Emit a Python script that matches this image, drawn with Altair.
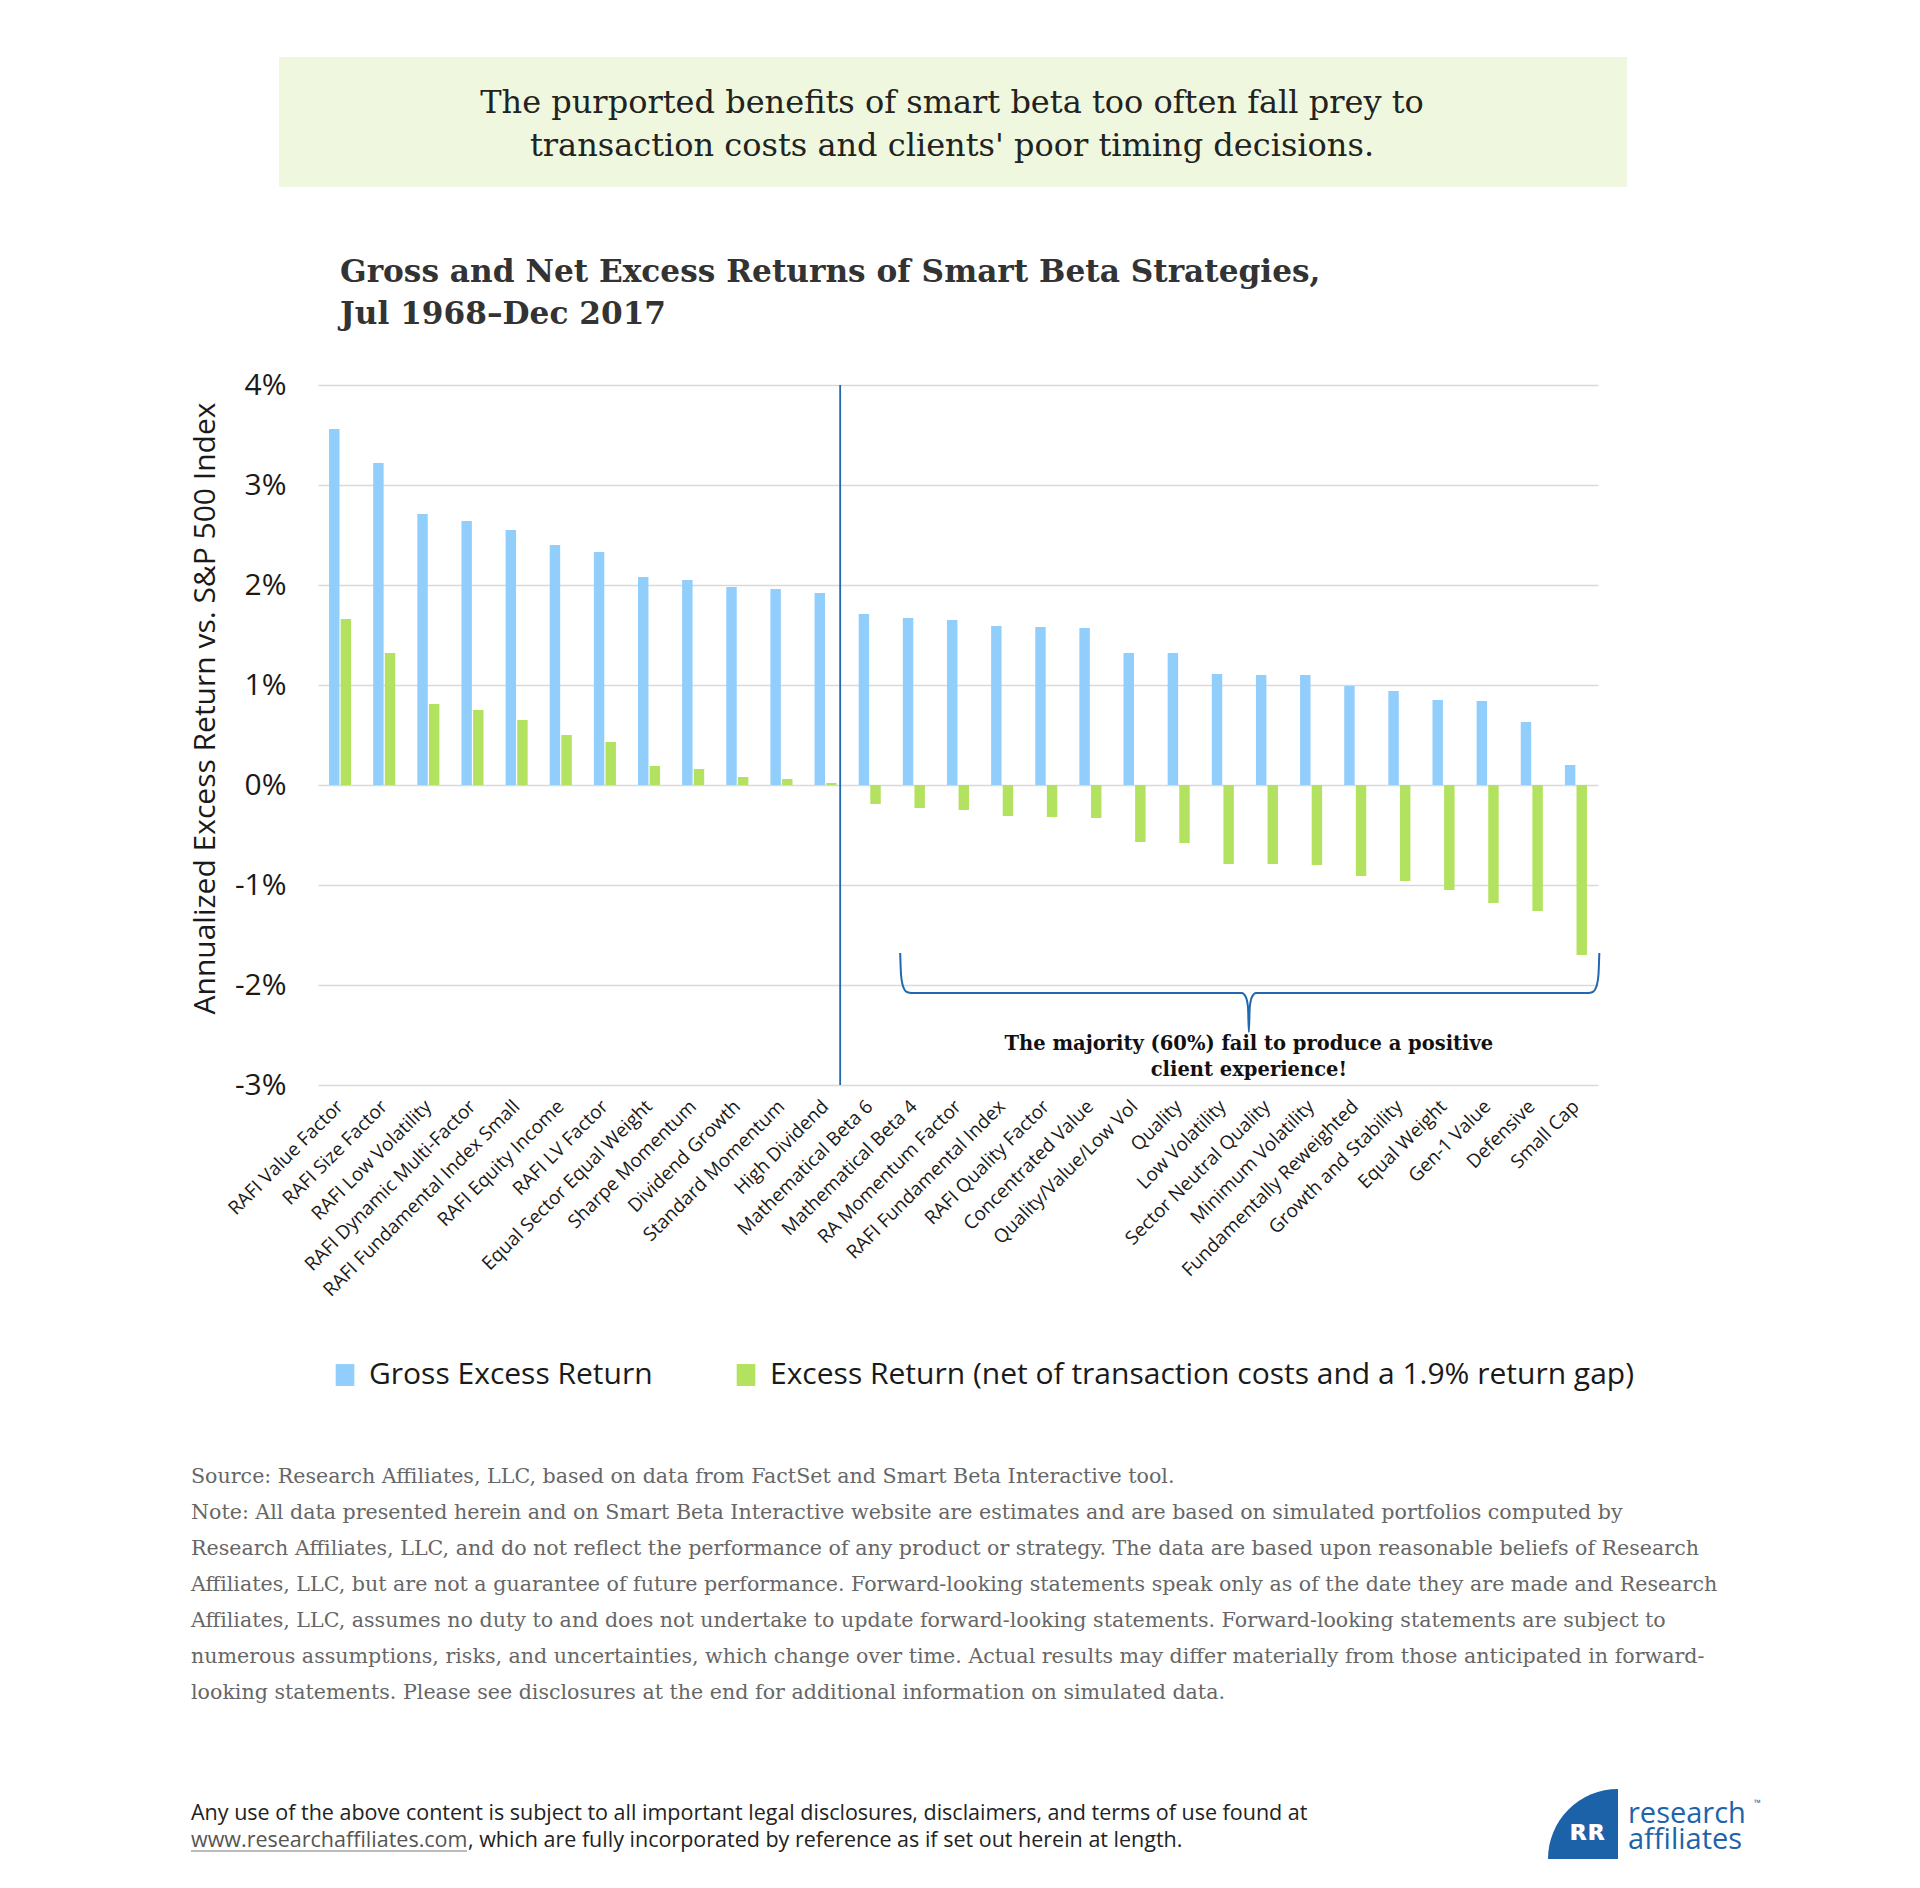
import altair as alt
import pandas as pd

categories = [
    "RAFI Value Factor", "RAFI Size Factor", "RAFI Low Volatility", "RAFI Dynamic Multi-Factor",
    "RAFI Fundamental Index Small", "RAFI Equity Income", "RAFI LV Factor", "Equal Sector Equal Weight",
    "Sharpe Momentum", "Dividend Growth", "Standard Momentum", "High Dividend",
    "Mathematical Beta 6", "Mathematical Beta 4", "RA Momentum Factor", "RAFI Fundamental Index",
    "RAFI Quality Factor", "Concentrated Value", "Quality/Value/Low Vol", "Quality", "Low Volatility",
    "Sector Neutral Quality", "Minimum Volatility", "Fundamentally Reweighted", "Growth and Stability",
    "Equal Weight", "Gen-1 Value", "Defensive", "Small Cap",
]
gross = [3.56, 3.22, 2.71, 2.64, 2.55, 2.40, 2.33, 2.08, 2.05, 1.98, 1.96, 1.92,
         1.71, 1.67, 1.65, 1.59, 1.58, 1.57, 1.32, 1.32, 1.11, 1.10, 1.10, 0.99, 0.94,
         0.85, 0.84, 0.63, 0.20]
net = [1.66, 1.32, 0.81, 0.75, 0.65, 0.50, 0.43, 0.19, 0.16, 0.08, 0.06, 0.02,
       -0.19, -0.23, -0.25, -0.31, -0.32, -0.33, -0.57, -0.58, -0.79, -0.79, -0.80, -0.91, -0.96,
       -1.05, -1.18, -1.26, -1.70]
series_names = ["Gross Excess Return",
                "Excess Return (net of transaction costs and a 1.9% return gap)"]
series_colors = ["#92CEFC", "#B2E260"]
y_ticks = [-3, -2, -1, 0, 1, 2, 3, 4]

# annotations, in category units (x) and percent units (y)
divider_x = 11.83
brace_x = [13.19, 13.21, 13.26, 13.34, 13.45, 20.93, 21.02, 21.07, 21.09, 21.11, 21.16, 21.25,
           28.78, 28.88, 28.96, 29.01, 29.03]
brace_y = [-1.68, -1.90, -2.02, -2.07, -2.08, -2.08, -2.12, -2.22, -2.47, -2.22, -2.12, -2.08,
           -2.08, -2.07, -2.02, -1.90, -1.68]
annot_lines = ["The majority (60%) fail to produce a positive", "client experience!"]
annot_x = [21.09, 21.09]
annot_y = [-2.65, -2.91]

banner_lines = ["The purported benefits of smart beta too often fall prey to",
                "transaction costs and clients' poor timing decisions."]
title_lines = ["Gross and Net Excess Returns of Smart Beta Strategies,",
               "Jul 1968\u2013Dec 2017"]
y_title = "Annualized Excess Return vs. S&P 500 Index"
note_lines = [
    "Source: Research Affiliates, LLC, based on data from FactSet and Smart Beta Interactive tool.",
    "Note: All data presented herein and on Smart Beta Interactive website are estimates and are based on simulated portfolios computed by",
    "Research Affiliates, LLC, and do not reflect the performance of any product or strategy. The data are based upon reasonable beliefs of Research",
    "Affiliates, LLC, but are not a guarantee of future performance. Forward-looking statements speak only as of the date they are made and Research",
    "Affiliates, LLC, assumes no duty to and does not undertake to update forward-looking statements. Forward-looking statements are subject to",
    "numerous assumptions, risks, and uncertainties, which change over time. Actual results may differ materially from those anticipated in forward-",
    "looking statements. Please see disclosures at the end for additional information on simulated data.",
]
footer_line1 = "Any use of the above content is subject to all important legal disclosures, disclaimers, and terms of use found at"
footer_url = "www.researchaffiliates.com"
footer_rest = ", which are fully incorporated by reference as if set out herein at length."

SANS = "Open Sans"
SERIF = "DejaVu Serif"
DARK_BLUE = "#2068B0"

rows = []
for c, g, n in zip(categories, gross, net):
    rows.append({"category": c, "series": series_names[0], "value": g})
    rows.append({"category": c, "series": series_names[1], "value": n})
df = pd.DataFrame(rows)
brace_df = pd.DataFrame({"bx": brace_x, "value": brace_y})
annot_df = pd.DataFrame({"bx": annot_x, "value": annot_y, "text": annot_lines})
one = pd.DataFrame({"k": [0]})

y_axis = alt.Axis(values=y_ticks, labelExpr="datum.value + '%'", grid=True, gridColor="#D9D9D9",
                  gridWidth=1.5, domain=False, ticks=False, labelFont=SANS, labelFontSize=30,
                  labelColor="#1a1a1a", labelPadding=32, title=y_title, titleFont=SANS,
                  titleFontSize=30, titleFontWeight="normal", titleColor="#1a1a1a",
                  titleAngle=270, titleX=-113, titleY=323, titleAlign="center",
                  titleBaseline="middle")
y_scale = alt.Scale(domain=[-3, 4], nice=False, zero=False)
q_scale = alt.Scale(domain=[0, 29], nice=False, zero=False)

bars = alt.Chart(df).mark_bar().encode(
    x=alt.X("category:N", sort=categories,
            scale=alt.Scale(paddingInner=0.5, paddingOuter=0.25),
            axis=alt.Axis(title=None, labelAngle=-45, labelAlign="right", labelBaseline="middle",
                          labelFont=SANS, labelFontSize=19, labelColor="#1a1a1a", labelPadding=18,
                          ticks=False, domain=False, grid=False, labelLimit=0, labelOverlap=False)),
    xOffset=alt.XOffset("series:N", sort=series_names, scale=alt.Scale(paddingInner=0.1)),
    y=alt.Y("value:Q", scale=y_scale, axis=y_axis),
    color=alt.Color("series:N", sort=series_names,
                    scale=alt.Scale(domain=series_names, range=series_colors),
                    legend=alt.Legend(title=None, orient="none", legendX=12, legendY=975,
                                      direction="horizontal", columnPadding=78,
                                      symbolType="M-0.85,-1H0.85V1H-0.85Z", symbolSize=480,
                                      symbolStrokeWidth=0, labelFont=SANS, labelFontSize=30,
                                      labelColor="#1a1a1a", labelOffset=9, labelLimit=0,
                                      padding=0)),
)

divider = alt.Chart(one).mark_rule(color=DARK_BLUE, strokeWidth=1.8).encode(
    x=alt.X(datum=divider_x, type="quantitative", scale=q_scale, axis=None),
    y=alt.Y(datum=4, scale=y_scale, axis=y_axis),
    y2=alt.Y2(datum=-3),
)
brace = alt.Chart(brace_df).mark_line(color=DARK_BLUE, strokeWidth=2, interpolate="monotone").encode(
    x=alt.X("bx:Q", scale=q_scale, axis=None),
    y=alt.Y("value:Q", scale=y_scale, axis=y_axis),
)
annot = alt.Chart(annot_df).mark_text(font=SERIF, fontWeight="bold", fontSize=19.5, color="#111111",
                                      align="center", baseline="alphabetic").encode(
    x=alt.X("bx:Q", scale=q_scale, axis=None),
    y=alt.Y("value:Q", scale=y_scale, axis=y_axis),
    text="text:N",
)
brace_layer = alt.layer(divider, brace, annot)


def text_mark(lines, x, y, size, font, color, weight="normal", align="left", lh=None):
    kw = dict(align=align, baseline="alphabetic", font=font, fontSize=size,
              fontWeight=weight, color=color)
    if lh is not None:
        kw["lineHeight"] = lh
    return alt.Chart(one).mark_text(**kw).encode(
        x=alt.value(x), y=alt.value(y), text=alt.value(lines))


banner_rect = alt.Chart(one).mark_rect(color="#EFF8DE").encode(
    x=alt.value(-39), x2=alt.value(1309), y=alt.value(-328), y2=alt.value(-198))
banner_text = text_mark(banner_lines, 634, -272, 32, SERIF, "#222222", align="center", lh=43)
title_text = text_mark(title_lines, 22, -103, 31.2, SERIF, "#333333", weight="bold", lh=42)
notes_text = text_mark(note_lines, -127, 1098, 20.6, SERIF, "#666666", lh=36)
footer1 = text_mark(footer_line1, -127, 1435, 21.5, SANS, "#222222")
footer_url_t = text_mark(footer_url, -127, 1462, 21.5, SANS, "#555555")
footer_rest_t = text_mark(footer_rest, 150, 1462, 21.5, SANS, "#222222")
underline = alt.Chart(one).mark_rule(color="#777777", strokeWidth=1).encode(
    x=alt.value(-127), x2=alt.value(149), y=alt.value(1466))
logo_arc = alt.Chart(one).mark_arc(color="#1B62A8", radius=70, theta=4.712389, theta2=6.283185).encode(
    x=alt.value(1300), y=alt.value(1474))
logo_glyph = text_mark("\u0280\u0280", 1270, 1455, 28, "DejaVu Sans", "#FFFFFF", weight="bold", align="center")
logo_t1 = text_mark("research", 1310, 1438, 29, SANS, "#1E64AA")
logo_t2 = text_mark("affiliates", 1310, 1464, 29, SANS, "#1E64AA")
logo_tm = text_mark("\u2122", 1436, 1421, 9, SANS, "#1E64AA")

chart = alt.layer(
    banner_rect, bars, brace_layer,
    banner_text, title_text, notes_text, footer1, footer_url_t, footer_rest_t, underline,
    logo_arc, logo_glyph, logo_t1, logo_t2, logo_tm,
).resolve_scale(x="independent").properties(
    width=1280, height=700, background="white",
    padding={"left": 310, "top": 377, "right": 310, "bottom": 790},
    autosize=alt.AutoSizeParams(type="none"),
).configure_view(stroke="transparent", strokeWidth=0)

chart.save("out.html", embed_options={"renderer": "svg", "actions": False})
